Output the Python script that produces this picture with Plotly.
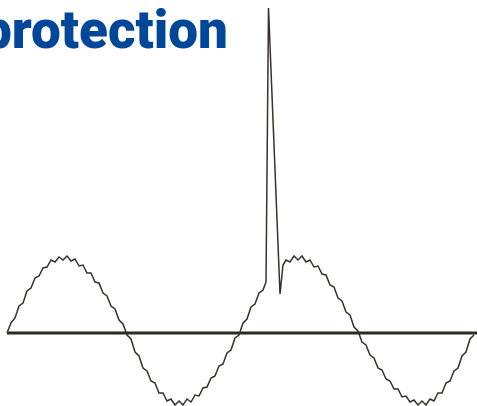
import plotly.graph_objects as go

# Waveform (x: horizontal position, y: signal level above baseline)
wave_x = [7, 11, 15, 19, 23, 27, 31, 35, 39, 43, 47, 51, 55, 59, 63,
          67, 71, 75, 79, 83, 87, 91, 95, 99, 103, 107, 111, 115, 119, 123, 127,
          131, 135, 139, 143, 147, 151, 155, 159, 163, 167, 171, 175, 179,
          183, 187, 191, 195, 199, 203, 207, 211, 215, 219, 223, 227, 231, 235, 239,
          243, 247, 251, 255, 259, 263, 266,
          268.5, 280, 283,
          286, 290, 294, 298, 302, 306, 310, 314, 318, 322, 326, 330, 334, 338, 342, 346, 350, 354, 358,
          362, 366, 370, 374, 378, 382, 386, 390, 394, 398, 402, 406, 410, 414, 418, 422,
          426, 430, 434, 438, 442, 446, 450, 454, 458, 462, 466, 470, 474]
wave_y = [0, 10, 15, 27, 30, 42, 45, 55, 57, 65, 66, 73, 71, 76, 73,
          77, 72, 74, 67, 68, 60, 60, 51, 50, 40, 37, 27, 24, 13, 9, -2,
          -6, -19, -23, -35, -38, -48, -50, -60, -60, -68, -66, -72, -68,
          -72, -66, -69, -62, -63, -55, -54, -45, -43, -33, -31, -20, -17, -5, -2,
          10, 14, 26, 29, 40, 43, 51,
          325, 39, 68,
          73, 71, 77, 73, 77, 71, 73, 66, 67, 59, 58, 48, 46, 35, 32, 21, 18, 6, 2,
          -9, -12, -22, -25, -35, -37, -46, -48, -56, -56, -64, -63, -69, -67, -72, -68,
          -72, -66, -68, -60, -60, -50, -48, -38, -35, -23, -19, -6, -2]

baseline_x = [7, 477]
baseline_y = [0, 0]

title_text = "protection"

fig = go.Figure()
fig.add_trace(go.Scatter(x=baseline_x, y=baseline_y, mode="lines",
                         line=dict(color="#2d2924", width=3), hoverinfo="skip"))
fig.add_trace(go.Scatter(x=wave_x, y=wave_y, mode="lines", cliponaxis=False,
                         line=dict(color="#35312c", width=1.5), hoverinfo="skip"))

fig.add_annotation(text=title_text, xref="paper", yref="paper",
                   x=230 / 477, y=1 - 30 / 406, xanchor="right", yanchor="middle",
                   showarrow=False,
                   font=dict(family="Roboto", size=53, color="#00479a", weight=900))

fig.update_layout(width=477, height=406, margin=dict(l=0, r=0, t=0, b=0),
                  paper_bgcolor="white", plot_bgcolor="white", showlegend=False,
                  hovermode=False,
                  xaxis=dict(range=[0, 477], visible=False, fixedrange=True),
                  yaxis=dict(range=[-73, 333], visible=False, fixedrange=True))

fig.write_html("out.html", config={"displayModeBar": False},
               post_script="document.body.style.margin='0';document.body.style.overflow='hidden';")
